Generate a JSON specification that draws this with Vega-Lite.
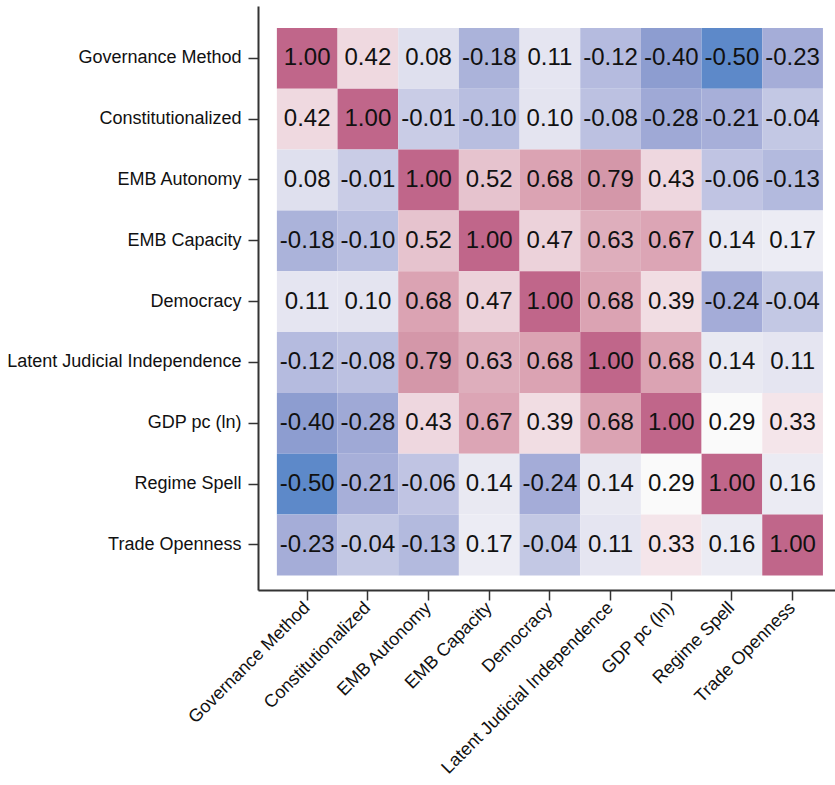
{
  "$schema": "https://vega.github.io/schema/vega-lite/v6.json",
  "autosize": "none",
  "padding": {"left": 258, "top": 6, "right": 0, "bottom": 195},
  "width": 577,
  "height": 584,
  "background": "white",
  "config": {
    "locale": {"number": {"decimal": ".", "thousands": ",", "grouping": [3], "currency": ["$", ""], "minus": "-"}},
    "view": {"stroke": null},
    "font": "Liberation Sans",
    "axis": {
      "labelFont": "Liberation Sans",
      "labelFontSize": 18,
      "labelLimit": 400,
      "labelColor": "#111",
      "domainColor": "#333",
      "domainWidth": 2,
      "tickColor": "#333",
      "tickWidth": 1.5,
      "tickSize": 10,
      "title": null,
      "grid": false
    }
  },
  "data": {
    "values": [
      {"row": "Governance Method", "col": "Governance Method", "r": 1.00},
      {"row": "Governance Method", "col": "Constitutionalized", "r": 0.42},
      {"row": "Governance Method", "col": "EMB Autonomy", "r": 0.08},
      {"row": "Governance Method", "col": "EMB Capacity", "r": -0.18},
      {"row": "Governance Method", "col": "Democracy", "r": 0.11},
      {"row": "Governance Method", "col": "Latent Judicial Independence", "r": -0.12},
      {"row": "Governance Method", "col": "GDP pc (ln)", "r": -0.40},
      {"row": "Governance Method", "col": "Regime Spell", "r": -0.50},
      {"row": "Governance Method", "col": "Trade Openness", "r": -0.23},
      {"row": "Constitutionalized", "col": "Governance Method", "r": 0.42},
      {"row": "Constitutionalized", "col": "Constitutionalized", "r": 1.00},
      {"row": "Constitutionalized", "col": "EMB Autonomy", "r": -0.01},
      {"row": "Constitutionalized", "col": "EMB Capacity", "r": -0.10},
      {"row": "Constitutionalized", "col": "Democracy", "r": 0.10},
      {"row": "Constitutionalized", "col": "Latent Judicial Independence", "r": -0.08},
      {"row": "Constitutionalized", "col": "GDP pc (ln)", "r": -0.28},
      {"row": "Constitutionalized", "col": "Regime Spell", "r": -0.21},
      {"row": "Constitutionalized", "col": "Trade Openness", "r": -0.04},
      {"row": "EMB Autonomy", "col": "Governance Method", "r": 0.08},
      {"row": "EMB Autonomy", "col": "Constitutionalized", "r": -0.01},
      {"row": "EMB Autonomy", "col": "EMB Autonomy", "r": 1.00},
      {"row": "EMB Autonomy", "col": "EMB Capacity", "r": 0.52},
      {"row": "EMB Autonomy", "col": "Democracy", "r": 0.68},
      {"row": "EMB Autonomy", "col": "Latent Judicial Independence", "r": 0.79},
      {"row": "EMB Autonomy", "col": "GDP pc (ln)", "r": 0.43},
      {"row": "EMB Autonomy", "col": "Regime Spell", "r": -0.06},
      {"row": "EMB Autonomy", "col": "Trade Openness", "r": -0.13},
      {"row": "EMB Capacity", "col": "Governance Method", "r": -0.18},
      {"row": "EMB Capacity", "col": "Constitutionalized", "r": -0.10},
      {"row": "EMB Capacity", "col": "EMB Autonomy", "r": 0.52},
      {"row": "EMB Capacity", "col": "EMB Capacity", "r": 1.00},
      {"row": "EMB Capacity", "col": "Democracy", "r": 0.47},
      {"row": "EMB Capacity", "col": "Latent Judicial Independence", "r": 0.63},
      {"row": "EMB Capacity", "col": "GDP pc (ln)", "r": 0.67},
      {"row": "EMB Capacity", "col": "Regime Spell", "r": 0.14},
      {"row": "EMB Capacity", "col": "Trade Openness", "r": 0.17},
      {"row": "Democracy", "col": "Governance Method", "r": 0.11},
      {"row": "Democracy", "col": "Constitutionalized", "r": 0.10},
      {"row": "Democracy", "col": "EMB Autonomy", "r": 0.68},
      {"row": "Democracy", "col": "EMB Capacity", "r": 0.47},
      {"row": "Democracy", "col": "Democracy", "r": 1.00},
      {"row": "Democracy", "col": "Latent Judicial Independence", "r": 0.68},
      {"row": "Democracy", "col": "GDP pc (ln)", "r": 0.39},
      {"row": "Democracy", "col": "Regime Spell", "r": -0.24},
      {"row": "Democracy", "col": "Trade Openness", "r": -0.04},
      {"row": "Latent Judicial Independence", "col": "Governance Method", "r": -0.12},
      {"row": "Latent Judicial Independence", "col": "Constitutionalized", "r": -0.08},
      {"row": "Latent Judicial Independence", "col": "EMB Autonomy", "r": 0.79},
      {"row": "Latent Judicial Independence", "col": "EMB Capacity", "r": 0.63},
      {"row": "Latent Judicial Independence", "col": "Democracy", "r": 0.68},
      {"row": "Latent Judicial Independence", "col": "Latent Judicial Independence", "r": 1.00},
      {"row": "Latent Judicial Independence", "col": "GDP pc (ln)", "r": 0.68},
      {"row": "Latent Judicial Independence", "col": "Regime Spell", "r": 0.14},
      {"row": "Latent Judicial Independence", "col": "Trade Openness", "r": 0.11},
      {"row": "GDP pc (ln)", "col": "Governance Method", "r": -0.40},
      {"row": "GDP pc (ln)", "col": "Constitutionalized", "r": -0.28},
      {"row": "GDP pc (ln)", "col": "EMB Autonomy", "r": 0.43},
      {"row": "GDP pc (ln)", "col": "EMB Capacity", "r": 0.67},
      {"row": "GDP pc (ln)", "col": "Democracy", "r": 0.39},
      {"row": "GDP pc (ln)", "col": "Latent Judicial Independence", "r": 0.68},
      {"row": "GDP pc (ln)", "col": "GDP pc (ln)", "r": 1.00},
      {"row": "GDP pc (ln)", "col": "Regime Spell", "r": 0.29},
      {"row": "GDP pc (ln)", "col": "Trade Openness", "r": 0.33},
      {"row": "Regime Spell", "col": "Governance Method", "r": -0.50},
      {"row": "Regime Spell", "col": "Constitutionalized", "r": -0.21},
      {"row": "Regime Spell", "col": "EMB Autonomy", "r": -0.06},
      {"row": "Regime Spell", "col": "EMB Capacity", "r": 0.14},
      {"row": "Regime Spell", "col": "Democracy", "r": -0.24},
      {"row": "Regime Spell", "col": "Latent Judicial Independence", "r": 0.14},
      {"row": "Regime Spell", "col": "GDP pc (ln)", "r": 0.29},
      {"row": "Regime Spell", "col": "Regime Spell", "r": 1.00},
      {"row": "Regime Spell", "col": "Trade Openness", "r": 0.16},
      {"row": "Trade Openness", "col": "Governance Method", "r": -0.23},
      {"row": "Trade Openness", "col": "Constitutionalized", "r": -0.04},
      {"row": "Trade Openness", "col": "EMB Autonomy", "r": -0.13},
      {"row": "Trade Openness", "col": "EMB Capacity", "r": 0.17},
      {"row": "Trade Openness", "col": "Democracy", "r": -0.04},
      {"row": "Trade Openness", "col": "Latent Judicial Independence", "r": 0.11},
      {"row": "Trade Openness", "col": "GDP pc (ln)", "r": 0.33},
      {"row": "Trade Openness", "col": "Regime Spell", "r": 0.16},
      {"row": "Trade Openness", "col": "Trade Openness", "r": 1.00}
    ]
  },
  "encoding": {
    "x": {
      "field": "col", "type": "nominal",
      "sort": ["Governance Method", "Constitutionalized", "EMB Autonomy", "EMB Capacity", "Democracy", "Latent Judicial Independence", "GDP pc (ln)", "Regime Spell", "Trade Openness"],
      "scale": {"paddingInner": 0, "paddingOuter": 0.255, "align": 0.61},
      "axis": {"labelAngle": -45, "labelPadding": 5, "labelAlign": "right", "labelBaseline": "middle"}
    },
    "y": {
      "field": "row", "type": "nominal",
      "sort": ["Governance Method", "Constitutionalized", "EMB Autonomy", "EMB Capacity", "Democracy", "Latent Judicial Independence", "GDP pc (ln)", "Regime Spell", "Trade Openness"],
      "scale": {"paddingInner": 0, "paddingOuter": 0.3, "align": 0.6},
      "axis": {"labelPadding": 7}
    }
  },
  "layer": [
    {
      "mark": {"type": "rect"},
      "encoding": {
        "color": {
          "field": "r", "type": "quantitative", "legend": null,
          "scale": {
            "domain": [-0.5, -0.4, -0.28, -0.2, -0.1, 0.0, 0.1, 0.29, 0.33, 0.47, 0.52, 0.63, 0.68, 0.79, 1.0],
            "range": ["#5d89c9", "#8d9dd0", "#9fa9d6", "#a8b0d9", "#b8bee0", "#cbcee7", "#e4e4f0", "#fafafa", "#f4e5ea", "#ecd2da", "#e6c3ce", "#deaebc", "#dba3b3", "#d497a9", "#c0668a"]
          }
        }
      }
    },
    {
      "mark": {"type": "text", "font": "Liberation Sans", "fontSize": 24, "color": "#111"},
      "encoding": {
        "text": {"field": "r", "type": "quantitative", "format": ".2f"}
      }
    }
  ]
}
